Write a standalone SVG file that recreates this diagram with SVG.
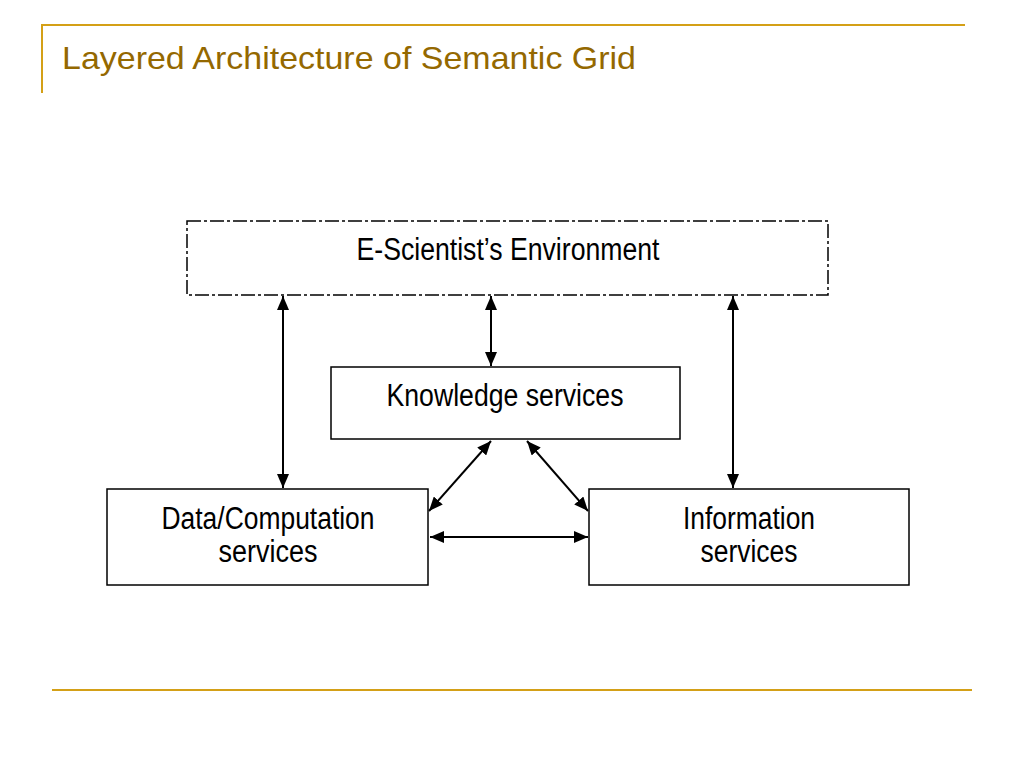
<svg xmlns="http://www.w3.org/2000/svg" width="1024" height="768" viewBox="0 0 1024 768">
<defs>
<marker id="ah" viewBox="0 0 14 12" refX="14" refY="6" markerWidth="14" markerHeight="12" markerUnits="userSpaceOnUse" orient="auto-start-reverse">
<path d="M0,0 L14,6 L0,12 z" fill="#000"/>
</marker>
<style>
.box{fill:#fff;stroke:#000;stroke-width:1.5}
.dash{fill:#fff;stroke:#000;stroke-width:1.5;stroke-dasharray:14 3 3 3}
.lbl{font-family:"Liberation Sans",Arial,sans-serif;font-size:31px;fill:#000;text-anchor:middle}
.conn{stroke:#000;stroke-width:2;fill:none;marker-start:url(#ah);marker-end:url(#ah)}
.gold{stroke:#d4a017;stroke-width:2;fill:none}
</style>
</defs>
<rect width="1024" height="768" fill="#fff"/>
<g id="header">
<path class="gold" d="M42,93 V25 H965"/>
<text x="62" y="69" font-family="'Liberation Sans',Arial,sans-serif" font-size="32" fill="#946800" textLength="574" lengthAdjust="spacingAndGlyphs">Layered Architecture of Semantic Grid</text>
</g>
<g id="footer"><path class="gold" d="M52,690 H972"/></g>
<g id="connectors">
<line class="conn" x1="283" y1="296" x2="283" y2="488"/>
<line class="conn" x1="491" y1="296" x2="491" y2="366"/>
<line class="conn" x1="733" y1="296" x2="733" y2="488"/>
<line class="conn" x1="491" y1="441" x2="429" y2="511"/>
<line class="conn" x1="527" y1="441" x2="588" y2="511"/>
<line class="conn" x1="430" y1="537" x2="588" y2="537"/>
</g>
<g id="escientist">
<rect class="dash" x="187" y="221" width="641" height="74"/>
<text class="lbl" x="508" y="260" textLength="303" lengthAdjust="spacingAndGlyphs">E-Scientist’s Environment</text>
</g>
<g id="knowledge">
<rect class="box" x="331" y="367" width="349" height="72"/>
<text class="lbl" x="505" y="406" textLength="237" lengthAdjust="spacingAndGlyphs">Knowledge services</text>
</g>
<g id="data">
<rect class="box" x="107" y="489" width="321" height="96"/>
<text class="lbl" x="268" y="529" textLength="213" lengthAdjust="spacingAndGlyphs">Data/Computation</text>
<text class="lbl" x="268" y="562" textLength="99" lengthAdjust="spacingAndGlyphs">services</text>
</g>
<g id="information">
<rect class="box" x="589" y="489" width="320" height="96"/>
<text class="lbl" x="749" y="529" textLength="132" lengthAdjust="spacingAndGlyphs">Information</text>
<text class="lbl" x="749" y="562" textLength="97" lengthAdjust="spacingAndGlyphs">services</text>
</g>
</svg>
